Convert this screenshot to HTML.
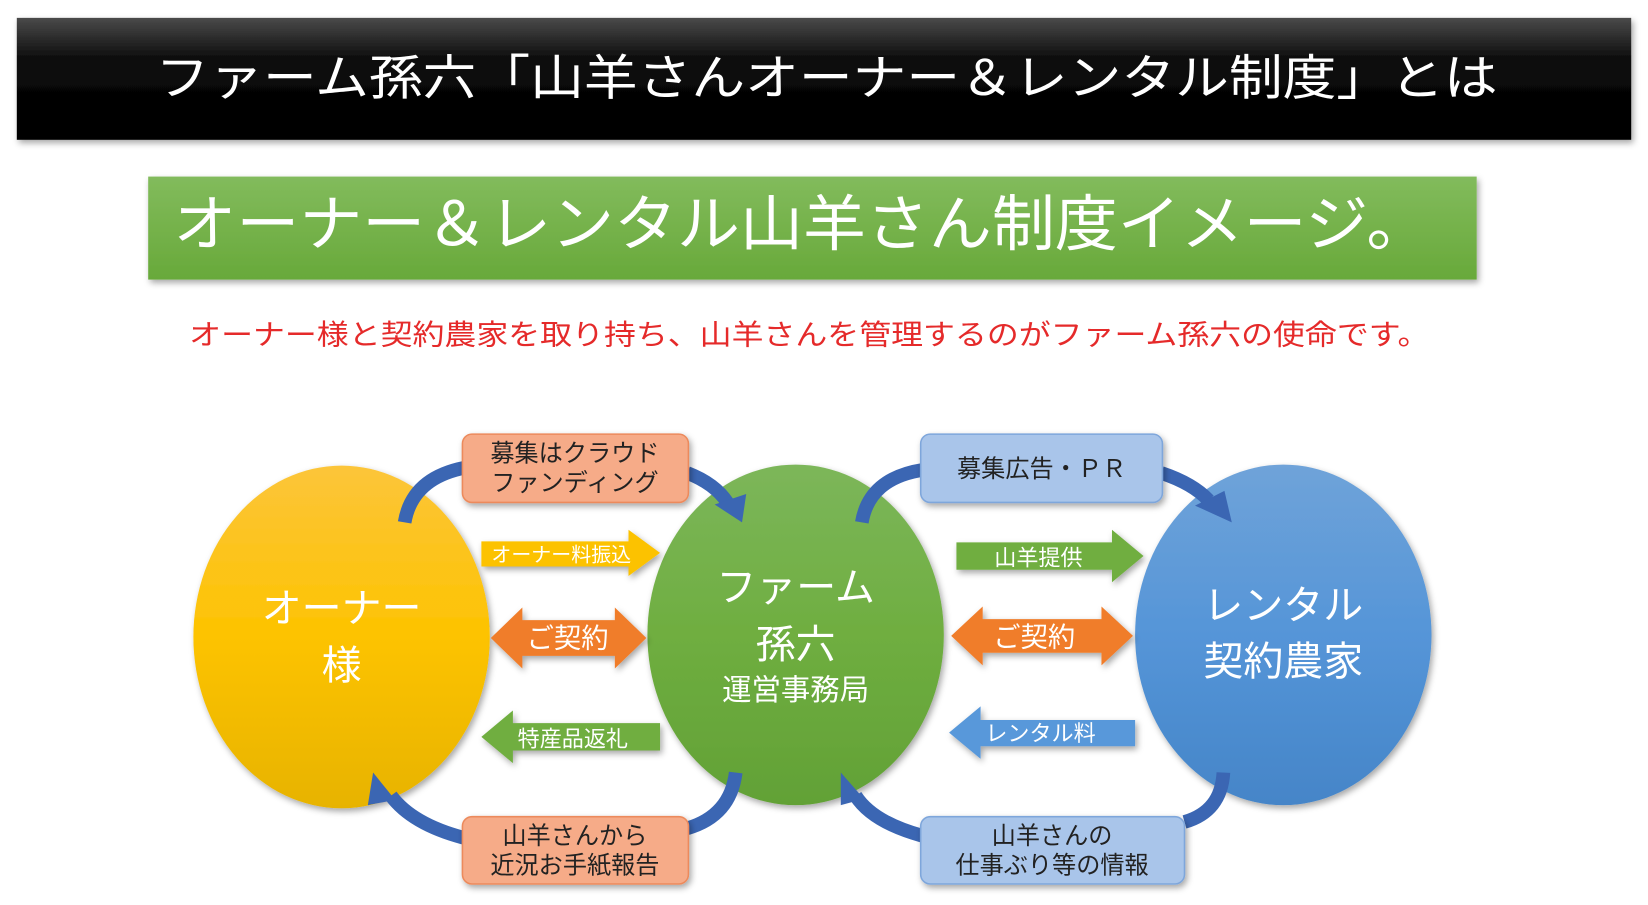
<!DOCTYPE html>
<html><head><meta charset="utf-8"><style>
html,body{margin:0;padding:0;background:#fff;width:1648px;height:905px;overflow:hidden}
svg{display:block}
text{font-family:"Liberation Sans","Noto Sans CJK JP",sans-serif}
</style></head><body>
<svg width="1648" height="905" viewBox="0 0 1568 861" preserveAspectRatio="none" xmlns="http://www.w3.org/2000/svg">
<defs>
<linearGradient id="hd" x1="0" y1="0" x2="0" y2="1"><stop offset="0" stop-color="#4a4a4a"/><stop offset="0.35" stop-color="#0a0a0a"/><stop offset="1" stop-color="#000"/></linearGradient>
<linearGradient id="gb" x1="0" y1="0" x2="0" y2="1"><stop offset="0" stop-color="#82bb5c"/><stop offset="1" stop-color="#68a93a"/></linearGradient>
<linearGradient id="ye" x1="0" y1="0" x2="0" y2="1"><stop offset="0" stop-color="#fcc53a"/><stop offset="0.5" stop-color="#fdc300"/><stop offset="1" stop-color="#e7b300"/></linearGradient>
<linearGradient id="ge" x1="0" y1="0" x2="0" y2="1"><stop offset="0" stop-color="#7cb65a"/><stop offset="0.5" stop-color="#6fae40"/><stop offset="1" stop-color="#62a136"/></linearGradient>
<linearGradient id="be" x1="0" y1="0" x2="0" y2="1"><stop offset="0" stop-color="#6fa3d9"/><stop offset="0.5" stop-color="#5595d8"/><stop offset="1" stop-color="#4585c8"/></linearGradient>
<filter id="sh" x="-10%" y="-10%" width="130%" height="130%"><feDropShadow dx="2" dy="3" stdDeviation="3" flood-opacity="0.35"/></filter>
</defs>
<!-- header -->
<rect x="16" y="17" width="1536" height="116" fill="url(#hd)" filter="url(#sh)"/>
<text x="148" y="90" font-size="46" fill="#fff" textLength="1277" lengthAdjust="spacingAndGlyphs">ファーム孫六「山羊さんオーナー＆レンタル制度」とは</text>
<!-- green banner -->
<rect x="141" y="168" width="1264" height="98" fill="url(#gb)" filter="url(#sh)"/>
<text x="165" y="233" font-size="58" fill="#fff" textLength="1195" lengthAdjust="spacingAndGlyphs">オーナー＆レンタル山羊さん制度イメージ。</text>
<!-- red line -->
<text x="180" y="328" font-size="27" fill="#e52a2a" textLength="1180" lengthAdjust="spacingAndGlyphs">オーナー様と契約農家を取り持ち、山羊さんを管理するのがファーム孫六の使命です。</text>

<!-- ellipses -->
<ellipse cx="325" cy="606" rx="141" ry="163" fill="url(#ye)" filter="url(#sh)"/>
<ellipse cx="757" cy="604" rx="141" ry="162" fill="url(#ge)" filter="url(#sh)"/>
<ellipse cx="1221" cy="604" rx="141" ry="162" fill="url(#be)" filter="url(#sh)"/>
<text x="325" y="592" font-size="38" fill="#fff" text-anchor="middle">オーナー</text>
<text x="325" y="646" font-size="38" fill="#fff" text-anchor="middle">様</text>
<text x="757" y="572" font-size="38" fill="#fff" text-anchor="middle">ファーム</text>
<text x="757" y="626" font-size="38" fill="#fff" text-anchor="middle">孫六</text>
<text x="757" y="666" font-size="28" fill="#fff" text-anchor="middle">運営事務局</text>
<text x="1221" y="589" font-size="38" fill="#fff" text-anchor="middle">レンタル</text>
<text x="1221" y="642" font-size="38" fill="#fff" text-anchor="middle">契約農家</text>

<!-- curved arrows -->
<g fill="none" stroke="#3b66b3" stroke-width="13">
<path d="M385 497 Q392 455 442 445"/>
<path d="M654 450 Q680 460 692 478"/>
<path d="M820 497 Q827 455 878 447"/>
<path d="M1105 450 Q1135 460 1150 476"/>
<path d="M1164 735 Q1162 772 1127 782"/>
<path d="M877 795 Q830 782 814 757"/>
<path d="M700 735 Q695 776 654 788"/>
<path d="M441 797 Q392 784 372 757"/>
</g>
<g fill="#3b66b3">
<polygon points="680,480 710,470 706,497"/>
<polygon points="1137,481 1165,467 1172,497"/>
<polygon points="800,735 822,760 800,766"/>
<polygon points="355,735 376,761 350,766"/>
</g>

<!-- boxes -->
<g filter="url(#sh)">
<rect x="440" y="413" width="215" height="65" rx="9" fill="#f6ab88" stroke="#ec8a5c" stroke-width="1.5"/>
<rect x="440" y="777" width="215" height="64" rx="9" fill="#f6ab88" stroke="#ec8a5c" stroke-width="1.5"/>
<rect x="876" y="413" width="230" height="65" rx="9" fill="#a9c5ea" stroke="#7ea6db" stroke-width="1.5"/>
<rect x="876" y="777" width="251" height="64" rx="9" fill="#a9c5ea" stroke="#7ea6db" stroke-width="1.5"/>
</g>
<g font-size="23" fill="#222" text-anchor="middle">
<text x="547" y="439">募集はクラウド</text>
<text x="547" y="467">ファンディング</text>
<text x="547" y="803">山羊さんから</text>
<text x="547" y="831">近況お手紙報告</text>
<text x="991" y="454">募集広告・ＰＲ</text>
<text x="1001" y="803">山羊さんの</text>
<text x="1001" y="831">仕事ぶり等の情報</text>
</g>

<!-- straight arrows -->
<g filter="url(#sh)">
<polygon points="458,515 598,515 598,504 628,526 598,548 598,539 458,539" fill="#fcc200"/>
<polygon points="467,607 497,578 497,590 585,590 585,578 615,607 585,636 585,624 497,624 497,636" fill="#f07d2c"/>
<polygon points="628,688 488,688 488,676 458,701 488,726 488,714 628,714" fill="#6fae40"/>
<polygon points="910,516 1058,516 1058,504 1088,529 1058,554 1058,542 910,542" fill="#6fae40"/>
<polygon points="905,605 935,577 935,589 1048,589 1048,577 1078,605 1048,633 1048,621 935,621 935,633" fill="#f07d2c"/>
<polygon points="1080,685 933,685 933,672 903,697 933,722 933,710 1080,710" fill="#5898da"/>
</g>
<g font-size="21" fill="#fff" text-anchor="middle">
<text x="534" y="534" font-size="19">オーナー料振込</text>
<text x="540" y="616" font-size="26">ご契約</text>
<text x="545" y="710">特産品返礼</text>
<text x="988" y="538">山羊提供</text>
<text x="984" y="615" font-size="26">ご契約</text>
<text x="990" y="705">レンタル料</text>
</g>
</svg>
</body></html>
